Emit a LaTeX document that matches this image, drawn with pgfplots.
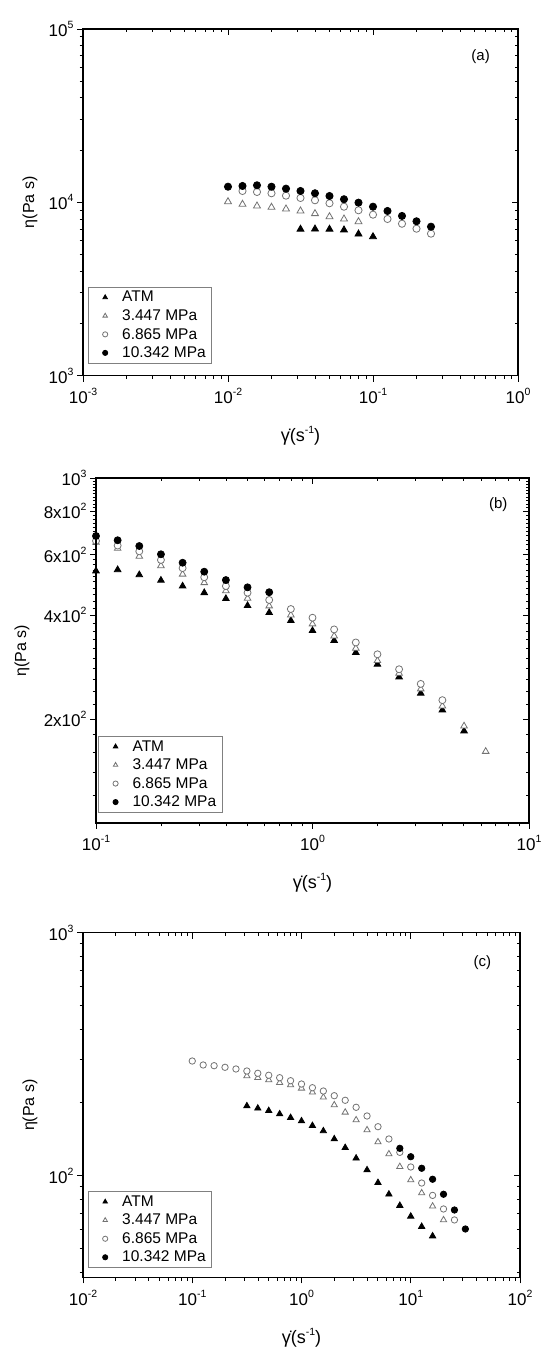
\documentclass[border=0pt]{standalone}
\usepackage{fontspec}
\setmainfont{Liberation Sans}
\usepackage{pgfplots}
\pgfplotsset{compat=1.18}
\newcommand{\fs}[1]{\fontsize{#1}{#1}\selectfont}
\newcommand{\sups}[1]{\raisebox{8pt}{\fs{10.5}#1}}
\newcommand{\tp}[1]{10\sups{#1}}
\newcommand{\gd}{γ̇}
\definecolor{og}{gray}{0.45}
\begin{document}
\begin{tikzpicture}
\useasboundingbox (0pt,0pt) rectangle (550pt,1348pt);
% ---------------- panel (a)
\begin{axis}[at={(83pt,972.4pt)}, anchor=south west, scale only axis, width=435pt, height=346.6pt,
    xmode=log, ymode=log, xmin=1e-3, xmax=1, ymin=1e3, ymax=1e5,
    axis line style={line width=1.2pt}, every tick/.style={black,line width=0.9pt},
    major tick length=6pt, minor tick length=3.5pt,
    tick align=outside, xtick pos=left, ytick pos=left,
    xtick={0.001,0.01,0.1,1}, xticklabels={\tp{-3},\tp{-2},\tp{-1},\tp{0}},
    minor xtick={0.002,0.003,0.004,0.005,0.006,0.007,0.008,0.009,0.02,0.03,0.04,0.05,0.06,0.07,0.08,0.09,0.2,0.3,0.4,0.5,0.6,0.7,0.8,0.9},
    ytick={1000,10000,100000}, yticklabels={\tp{3},\tp{4},\tp{5}},
    minor ytick={2000,3000,4000,5000,6000,7000,8000,9000,20000,30000,40000,50000,60000,70000,80000,90000},
    tick label style={font=\fs{17}}, xticklabel style={yshift=-3pt},
    ylabel={η(Pa s)}, xlabel={\gd(s\sups{-1})},
    ylabel style={font=\fs{16}, at={(axis description cs:-0.1218,0.5)}, anchor=center, inner sep=1pt},
    xlabel style={font=\fs{18}, at={(axis description cs:0.5,0)}, anchor=center, yshift=-60pt, inner sep=1pt},
    legend cell align=left,
    legend image code/.code={\path[draw=none,fill=none] (0pt,-3pt) rectangle (28pt,3pt); \draw[mark size=2.6pt] plot coordinates {(13pt,0pt)};},
    legend style={at={(0.011,0.035)}, anchor=south west, draw=gray, line width=0.8pt, font=\fs{15.5},
      inner xsep=4pt, inner ysep=2pt, row sep=2.2pt, nodes={inner sep=2pt}}]
\addplot[only marks, mark=triangle*, mark size=4pt, mark options={fill=black,draw=black,line width=0.8pt}] table {
0.031623 6990
0.039811 7010
0.050119 6990
0.063096 6920
0.079433 6560
0.1 6330
};
\addplot[only marks, mark=triangle*, mark size=4pt, mark options={fill=white,draw=og,line width=0.8pt}] table {
0.01 10080
0.012589 9740
0.015849 9520
0.019953 9360
0.025119 9150
0.031623 8910
0.039811 8600
0.050119 8260
0.063096 8010
0.079433 7730
};
\addplot[only marks, mark=*, mark size=3.6pt, mark options={fill=white,draw=og,line width=0.8pt}] table {
0.012589 11620
0.015849 11470
0.019953 11270
0.025119 10920
0.031623 10590
0.039811 10270
0.050119 9870
0.063096 9430
0.079433 8990
0.1 8480
0.125893 8010
0.158489 7520
0.199526 7040
0.251189 6590
};
\addplot[only marks, mark=*, mark size=3.6pt, mark options={fill=black,draw=black,line width=0.8pt}] table {
0.01 12300
0.012589 12420
0.015849 12530
0.019953 12300
0.025119 11980
0.031623 11620
0.039811 11270
0.050119 10870
0.063096 10410
0.079433 9950
0.1 9430
0.125893 8910
0.158489 8340
0.199526 7770
0.251189 7230
};
\legend{ATM,3.447 MPa,6.865 MPa,10.342 MPa}
\node[font=\fs{15}] at (rel axis cs:0.914,0.92) {(a)};
\end{axis}
\begin{axis}[at={(83pt,972.4pt)}, anchor=south west, scale only axis, width=435pt, height=346.6pt,
    xmode=log, ymode=log, xmin=1e-3, xmax=1, ymin=1e3, ymax=1e5,
    axis line style={line width=1.2pt}, every tick/.style={black,line width=0.9pt},
    major tick length=6pt, minor tick length=3.5pt,
    tick align=inside, xtick pos=right, ytick pos=right,
    xtick={0.001,0.01,0.1,1}, xticklabels={},
    minor xtick={0.002,0.003,0.004,0.005,0.006,0.007,0.008,0.009,0.02,0.03,0.04,0.05,0.06,0.07,0.08,0.09,0.2,0.3,0.4,0.5,0.6,0.7,0.8,0.9},
    ytick={1000,10000,100000}, yticklabels={},
    minor ytick={2000,3000,4000,5000,6000,7000,8000,9000,20000,30000,40000,50000,60000,70000,80000,90000}]
\end{axis}
% ---------------- panel (b)
\begin{axis}[at={(96pt,525pt)}, anchor=south west, scale only axis, width=433pt, height=345pt,
    xmode=log, ymode=log, xmin=0.1, xmax=10, ymin=100, ymax=1000,
    axis line style={line width=1.2pt}, every tick/.style={black,line width=0.9pt},
    major tick length=6pt, minor tick length=3.5pt,
    tick align=outside, xtick pos=left, ytick pos=left,
    xtick={0.1,1,10}, xticklabels={\tp{-1},\tp{0},\tp{1}},
    minor xtick={0.2,0.3,0.4,0.5,0.6,0.7,0.8,0.9,2,3,4,5,6,7,8,9},
    ytick={200,400,600,800,1000}, yticklabels={2x\tp{2},4x\tp{2},6x\tp{2},8x\tp{2},\tp{3}},
    minor ytick={120,140,160,180,220,240,260,280,300,320,340,360,380,420,440,460,480,500,520,540,560,580,620,640,660,680,700,720,740,760,780,820,840,860,880,900,920,940,960,980},
    tick label style={font=\fs{17}}, xticklabel style={yshift=-3pt},
    ylabel={η(Pa s)}, xlabel={\gd(s\sups{-1})},
    ylabel style={font=\fs{16}, at={(axis description cs:-0.1709,0.5)}, anchor=center, inner sep=1pt},
    xlabel style={font=\fs{18}, at={(axis description cs:0.5,0)}, anchor=center, yshift=-60pt, inner sep=1pt},
    legend cell align=left,
    legend image code/.code={\path[draw=none,fill=none] (0pt,-3pt) rectangle (28pt,3pt); \draw[mark size=2.6pt] plot coordinates {(13pt,0pt)};},
    legend style={at={(0.005,0.03)}, anchor=south west, draw=gray, line width=0.8pt, font=\fs{15.5},
      inner xsep=4pt, inner ysep=2pt, row sep=2.2pt, nodes={inner sep=2pt}}]
\addplot[only marks, mark=triangle*, mark size=3.8pt, mark options={fill=black,draw=black,line width=0.8pt}] table {
0.1 537.6
0.12589 542
0.15849 524
0.19953 505
0.25119 486
0.31623 465
0.39811 447
0.50119 426.6
0.63096 407
0.79433 386
1 361
1.25893 338
1.58489 312
1.99526 288.4
2.51189 265
3.16228 237.7
3.98107 212.5
5.01187 184.8
};
\addplot[only marks, mark=triangle*, mark size=3.8pt, mark options={fill=white,draw=og,line width=0.8pt}] table {
0.1 651
0.12589 625
0.15849 593
0.19953 556.6
0.25119 526
0.31623 497
0.39811 471
0.50119 448
0.63096 425.6
0.79433 400.7
1 377.5
1.25893 348.3
1.58489 321
1.99526 295.4
2.51189 271.6
3.16228 244.6
3.98107 218.3
5.01187 191
6.30957 161.2
};
\addplot[only marks, mark=*, mark size=3.5pt, mark options={fill=white,draw=og,line width=0.8pt}] table {
0.1 657
0.12589 637
0.15849 613
0.19953 578.6
0.25119 548
0.31623 515.5
0.39811 486
0.50119 465
0.63096 443
0.79433 417
1 393.6
1.25893 364
1.58489 333.6
1.99526 308.3
2.51189 279
3.16228 253
3.98107 227
};
\addplot[only marks, mark=*, mark size=3.5pt, mark options={fill=black,draw=black,line width=0.8pt}] table {
0.1 679
0.12589 660
0.15849 635
0.19953 601
0.25119 568
0.31623 535
0.39811 506
0.50119 482
0.63096 466.5
};
\legend{ATM,3.447 MPa,6.865 MPa,10.342 MPa}
\node[font=\fs{15}] at (rel axis cs:0.929,0.922) {(b)};
\end{axis}
\begin{axis}[at={(96pt,525pt)}, anchor=south west, scale only axis, width=433pt, height=345pt,
    xmode=log, ymode=log, xmin=0.1, xmax=10, ymin=100, ymax=1000,
    axis line style={line width=1.2pt}, every tick/.style={black,line width=0.9pt},
    major tick length=6pt, minor tick length=3.5pt,
    tick align=inside, xtick pos=right, ytick pos=right,
    xtick={0.1,1,10}, xticklabels={},
    minor xtick={0.2,0.3,0.4,0.5,0.6,0.7,0.8,0.9,2,3,4,5,6,7,8,9},
    ytick={200,400,600,800,1000}, yticklabels={},
    minor ytick={120,140,160,180,220,240,260,280,300,320,340,360,380,420,440,460,480,500,520,540,560,580,620,640,660,680,700,720,740,760,780,820,840,860,880,900,920,940,960,980}]
\end{axis}
% ---------------- panel (c)
\begin{axis}[at={(83pt,70.5pt)}, anchor=south west, scale only axis, width=437pt, height=344.7pt,
    xmode=log, ymode=log, xmin=0.01, xmax=100, ymin=38, ymax=1000,
    axis line style={line width=1.2pt}, every tick/.style={black,line width=0.9pt},
    major tick length=6pt, minor tick length=3.5pt,
    tick align=outside, xtick pos=left, ytick pos=left,
    xtick={0.01,0.1,1,10,100}, xticklabels={\tp{-2},\tp{-1},\tp{0},\tp{1},\tp{2}},
    minor xtick={0.02,0.03,0.04,0.05,0.06,0.07,0.08,0.09,0.2,0.3,0.4,0.5,0.6,0.7,0.8,0.9,2,3,4,5,6,7,8,9,20,30,40,50,60,70,80,90},
    ytick={100,1000}, yticklabels={\tp{2},\tp{3}},
    minor ytick={40,50,60,70,80,90,200,300,400,500,600,700,800,900},
    tick label style={font=\fs{17}}, xticklabel style={yshift=-3pt},
    ylabel={η(Pa s)}, xlabel={\gd(s\sups{-1})},
    ylabel style={font=\fs{16}, at={(axis description cs:-0.1213,0.5)}, anchor=center, inner sep=1pt},
    xlabel style={font=\fs{18}, at={(axis description cs:0.5,0)}, anchor=center, yshift=-60pt, inner sep=1pt},
    legend cell align=left,
    legend image code/.code={\path[draw=none,fill=none] (0pt,-3pt) rectangle (28pt,3pt); \draw[mark size=2.6pt] plot coordinates {(13pt,0pt)};},
    legend style={at={(0.011,0.028)}, anchor=south west, draw=gray, line width=0.8pt, font=\fs{15.5},
      inner xsep=4pt, inner ysep=2pt, row sep=2.2pt, nodes={inner sep=2pt}}]
\addplot[only marks, mark=triangle*, mark size=3.6pt, mark options={fill=black,draw=black,line width=0.8pt}] table {
0.316228 193.4
0.398107 189.2
0.501187 184.9
0.630957 179.2
0.794328 173.1
1 167.7
1.258925 160.4
1.584893 152.6
1.995262 141.4
2.511886 130.2
3.162278 117.8
3.981072 105.4
5.011872 93.4
6.309573 83.7
7.943282 75.2
10 67.9
12.589254 61.6
15.848932 56.3
};
\addplot[only marks, mark=triangle*, mark size=3.6pt, mark options={fill=white,draw=og,line width=0.8pt}] table {
0.316228 257.0
0.398107 252.9
0.501187 247.5
0.630957 241.2
0.794328 236.0
1 228.7
1.258925 220.2
1.584893 210.0
1.995262 195.2
2.511886 182.1
3.162278 169.3
3.981072 154.0
5.011872 137.4
6.309573 122.6
7.943282 108.7
10 95.8
12.589254 84.7
15.848932 74.7
19.952623 65.6
};
\addplot[only marks, mark=*, mark size=3.2pt, mark options={fill=white,draw=og,line width=0.8pt}] table {
0.1 296.3
0.125893 285.3
0.158489 283.4
0.199526 279.1
0.251189 274.7
0.316228 269.5
0.398107 263.7
0.501187 258.8
0.630957 252.9
0.794328 245.8
1 238.2
1.258925 230.0
1.584893 222.9
1.995262 213.2
2.511886 204.1
3.162278 191.0
3.981072 175.9
5.011872 158.9
6.309573 141.4
7.943282 124.6
10 108.4
12.589254 93.1
15.848932 82.8
19.952623 72.8
25.118864 65.6
};
\addplot[only marks, mark=*, mark size=3.2pt, mark options={fill=black,draw=black,line width=0.8pt}] table {
7.943282 129.4
10 119.5
12.589254 107.1
15.848932 96.5
19.952623 83.7
25.118864 72.1
31.622777 60.2
};
\legend{ATM,3.447 MPa,6.865 MPa,10.342 MPa}
\node[font=\fs{15}] at (rel axis cs:0.914,0.914) {(c)};
\end{axis}
\begin{axis}[at={(83pt,70.5pt)}, anchor=south west, scale only axis, width=437pt, height=344.7pt,
    xmode=log, ymode=log, xmin=0.01, xmax=100, ymin=38, ymax=1000,
    axis line style={line width=1.2pt}, every tick/.style={black,line width=0.9pt},
    major tick length=6pt, minor tick length=3.5pt,
    tick align=inside, xtick pos=right, ytick pos=right,
    xtick={0.01,0.1,1,10,100}, xticklabels={},
    minor xtick={0.02,0.03,0.04,0.05,0.06,0.07,0.08,0.09,0.2,0.3,0.4,0.5,0.6,0.7,0.8,0.9,2,3,4,5,6,7,8,9,20,30,40,50,60,70,80,90},
    ytick={100,1000}, yticklabels={},
    minor ytick={40,50,60,70,80,90,200,300,400,500,600,700,800,900}]
\end{axis}
\end{tikzpicture}
\end{document}
